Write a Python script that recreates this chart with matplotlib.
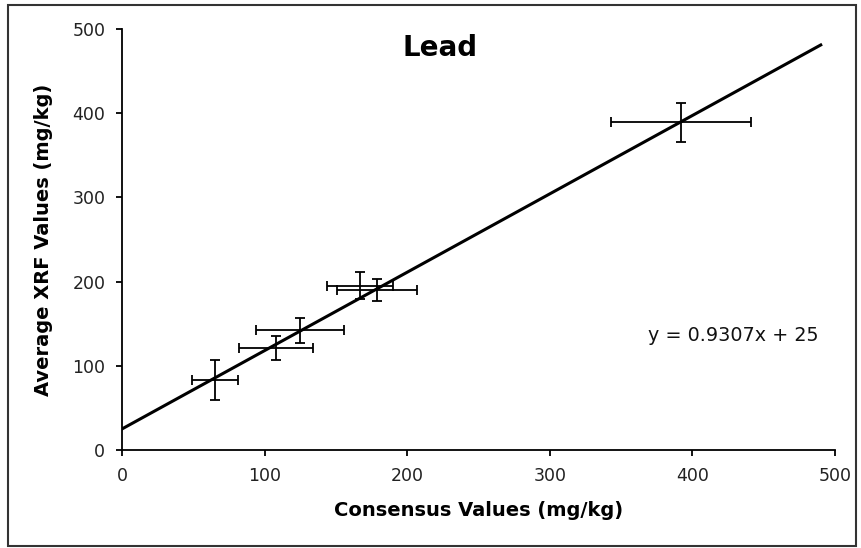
import matplotlib
matplotlib.use("Agg")
import matplotlib.pyplot as plt
import matplotlib.patches as mpatches
import numpy as np

# data
consensus = [65, 108, 125, 167, 179, 392]
xrf = [83, 121, 142, 195, 190, 389]
consensus_err = [16, 26, 31, 23, 28, 49]
xrf_err = [24, 14, 15, 16, 13, 23]
slope, intercept = 0.9307, 25
fit_range = [0, 490]

plt.rcParams['font.family'] = ['DejaVu Sans']

fig = plt.figure(figsize=(8.62, 5.48), dpi=100)
ax = fig.add_axes([122/862, 1 - 450/548, 713/862, 421/548])

# fit line
xs = np.array(fit_range)
ax.plot(xs, slope*xs + intercept, color='black', lw=2.2, zorder=3)

# points with error bars
ax.errorbar(consensus, xrf, xerr=consensus_err, yerr=xrf_err, fmt='none',
            ecolor='black', elinewidth=1.3, capsize=3.5, capthick=1.3, zorder=4)

ax.set_xlim(0, 500)
ax.set_ylim(0, 500)
ax.set_xticks(range(0, 501, 100))
ax.set_yticks(range(0, 501, 100))
ax.spines['top'].set_visible(False)
ax.spines['right'].set_visible(False)
for s in ['left', 'bottom']:
    ax.spines[s].set_linewidth(1.3)
ax.tick_params(direction='out', length=4, width=1.3, labelsize=12.5,
               colors='black', labelcolor='#222222')
ax.tick_params(axis='y', pad=8)
ax.tick_params(axis='x', pad=8)

ax.set_xlabel('Consensus Values (mg/kg)', fontsize=14, fontweight='bold', labelpad=12)
ax.set_ylabel('Average XRF Values (mg/kg)', fontsize=14, fontweight='bold', labelpad=14)

ax.text(0.446, 0.955, 'Lead', transform=ax.transAxes, ha='center', va='center',
        fontsize=20, fontweight='bold')
ax.text(0.857, 0.271, 'y = 0.9307x + 25', transform=ax.transAxes, ha='center',
        va='center', fontsize=13.8, color='#111111')

# outer frame
frame = mpatches.Rectangle((8/862, 2/548), 848/862, 541/548, transform=fig.transFigure,
                           fill=False, edgecolor='#333333', linewidth=1.5)
fig.patches.append(frame)

fig.savefig('out.png', dpi=100)
